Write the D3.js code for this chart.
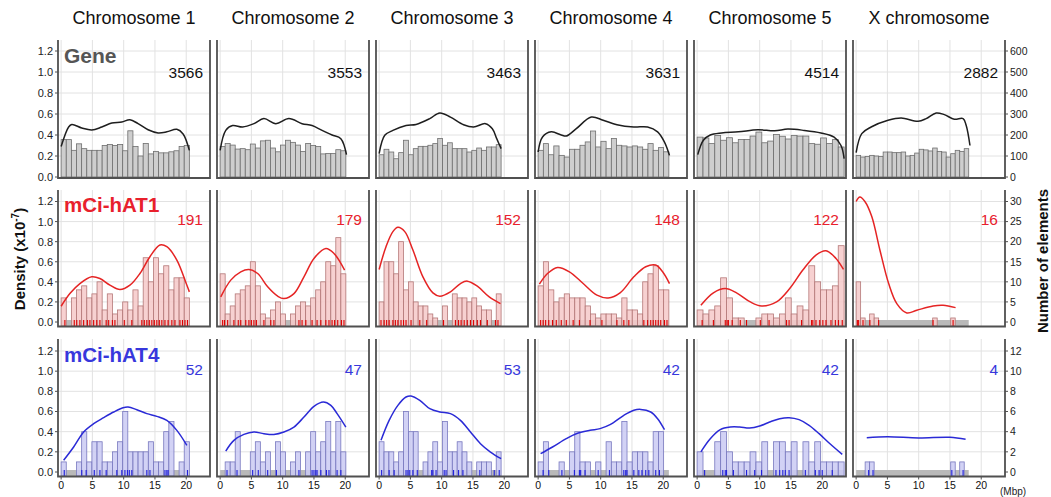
<!DOCTYPE html>
<html>
<head>
<meta charset="utf-8">
<script src="https://cdn.jsdelivr.net/npm/d3@7/dist/d3.min.js"></script>
<style>
  body { margin: 0; background: #fff; }
  svg { display: block; font-family: "Liberation Sans", Arial, sans-serif; }
</style>
</head>
<body>
<svg id="chart" width="1051" height="497"></svg>
<script>
// ---- data ----
const chromosomes = ["Chromosome 1", "Chromosome 2", "Chromosome 3", "Chromosome 4", "Chromosome 5", "X chromosome"];
const chromLength = [20.5, 20.1, 19.5, 20.9, 23.5, 18.0]; // Mbp

const geneTotals = [3566, 3553, 3463, 3631, 4514, 2882];
const hat1Totals = [191, 179, 152, 148, 122, 16];
const hat4Totals = [52, 47, 53, 42, 42, 4];

// element counts per bin (25 bins per chromosome)
const geneBins = [
  [178,178,127,158,135,127,127,127,150,155,150,155,125,220,145,100,160,110,122,115,115,120,125,145,150],
  [145,160,152,133,135,130,157,138,172,175,138,120,152,175,165,152,122,160,150,145,110,112,112,130,125],
  [106,132,119,87,116,175,106,135,146,146,151,159,183,151,163,135,135,135,119,127,138,127,143,143,154],
  [127,159,106,148,103,95,132,132,151,167,219,143,170,135,183,151,148,143,148,143,132,159,127,140,120],
  [190,186,159,198,175,187,163,179,179,195,214,163,171,202,194,181,198,195,195,159,156,186,159,178,143],
  [103,95,98,103,100,98,119,119,116,116,119,100,103,114,132,129,124,138,122,119,95,111,127,122,135]
];
const hat1Bins = [
  [6,0,6,8,9,6,7,10,3,7,2,3,5,3,8,4,16,10,16,12,14,8,11,11,6],
  [12,2,4,7,8,9,15,9,2,1,3,5,2,0,2,4,5,4,6,8,10,15,14,21,12],
  [5,15,15,12,20,8,10,5,4,4,2,1,0,4,0,7,6,6,5,6,4,3,3,0,7],
  [9,15,8,5,6,7,6,6,6,4,2,1,2,2,2,1,6,3,3,2,10,12,14,8,8],
  [3,2,3,4,11,6,1,1,0,0,1,2,2,1,2,6,2,4,3,14,10,8,8,9,19],
  [10,1,0,2,1,0,0,0,0,0,0,0,0,0,0,0,0,1,0,0,0,1,0,0,0]
];
const hat4Bins = [
  [1,0,0,1,4,1,3,3,1,1,2,3,6,2,2,2,2,3,1,1,4,5,0,1,3],
  [0,1,1,4,0,0,2,3,1,2,0,3,2,0,1,2,0,2,4,2,3,5,2,5,2],
  [3,2,2,1,2,6,4,4,0,1,2,3,1,5,2,2,3,2,1,0,1,1,1,0,2],
  [1,3,0,0,1,0,2,4,1,1,0,1,0,3,1,1,5,1,2,2,2,1,4,4,0],
  [2,0,0,3,4,2,1,1,1,2,1,3,0,3,3,2,3,0,3,1,3,1,1,1,1],
  [0,0,1,1,0,0,0,0,0,0,0,0,0,0,0,0,0,0,0,0,0,1,0,1,0]
];

// density curves, [Mbp, density x10^-7]
const geneDensity = [
  [[0,0.29],[1.2,0.476],[1.7,0.5],[3.3,0.467],[4.9,0.448],[6.5,0.476],[8.1,0.514],[9.7,0.524],[11,0.546],[12.3,0.508],[13.9,0.45],[15.5,0.42],[16.9,0.43],[18.5,0.454],[19.5,0.41],[20.5,0.254]],
  [[0,0.254],[0.9,0.444],[2.0,0.49],[3.6,0.476],[5.4,0.508],[7.0,0.556],[8.9,0.508],[11.0,0.556],[13.1,0.508],[14.7,0.49],[16.3,0.444],[17.9,0.40],[19.3,0.365],[20.2,0.213]],
  [[0,0.222],[0.9,0.397],[2.2,0.444],[4.3,0.49],[5.9,0.5],[8.1,0.556],[9.7,0.61],[11.4,0.57],[13.5,0.498],[15.1,0.476],[17,0.508],[18.1,0.46],[18.8,0.365],[19.5,0.27]],
  [[0,0.238],[0.7,0.381],[2.1,0.43],[3.7,0.40],[4.5,0.39],[6.1,0.46],[8.5,0.571],[10.4,0.54],[12.6,0.498],[15.3,0.476],[17.5,0.476],[19.1,0.43],[20.2,0.333],[21,0.206]],
  [[0.1,0.213],[1,0.35],[2.1,0.40],[3.9,0.42],[6.6,0.43],[9.7,0.45],[12.4,0.44],[14.5,0.456],[17.1,0.444],[19.8,0.42],[21.9,0.38],[23,0.30],[23.5,0.175]],
  [[0,0.232],[0.9,0.413],[2.4,0.476],[5.1,0.54],[7.2,0.562],[9.9,0.53],[11.2,0.556],[12.8,0.61],[14.1,0.594],[15.7,0.55],[17.1,0.556],[17.6,0.49],[18.2,0.30]]
];
const hat1Density = [
  [[0,0.157],[1.4,0.283],[3.0,0.383],[4.9,0.45],[6.2,0.433],[7.8,0.367],[9.4,0.323],[11,0.367],[12.6,0.483],[14.2,0.65],[15.8,0.767],[16.9,0.75],[18.5,0.617],[20,0.383],[20.5,0.3]],
  [[0.1,0.25],[1.7,0.417],[3.3,0.5],[4.6,0.523],[6.0,0.483],[7.6,0.35],[9.2,0.257],[10.2,0.233],[11.8,0.283],[13.4,0.45],[15.0,0.633],[16.9,0.733],[18.2,0.683],[19.9,0.517]],
  [[0,0.523],[1.1,0.75],[2.2,0.9],[3.0,0.943],[4.1,0.9],[5.4,0.717],[7.0,0.45],[8.6,0.29],[9.7,0.257],[11.4,0.3],[13.0,0.383],[14.1,0.407],[15.7,0.357],[17.6,0.25],[19.4,0.183]],
  [[0.2,0.377],[1.5,0.483],[3.1,0.543],[5.0,0.5],[7.2,0.383],[9.4,0.267],[11.2,0.24],[13.1,0.29],[15.3,0.45],[17.2,0.55],[18.8,0.567],[19.9,0.5],[21,0.383]],
  [[0.6,0.167],[2.6,0.29],[4.5,0.333],[6.3,0.29],[8.5,0.2],[10.3,0.16],[12.7,0.2],[14.8,0.333],[16.9,0.517],[19,0.667],[20.6,0.71],[22.2,0.633],[23.4,0.523]],
  [[0,1.2],[0.6,1.245],[1.4,1.2],[2.5,1.05],[3.8,0.717],[5.2,0.383],[6.5,0.183],[8.1,0.09],[9.7,0.117],[12.3,0.16],[13.9,0.167],[15.9,0.143]]
];
const hat4Density = [
  [[0.4,0.116],[2,0.248],[3.6,0.397],[5.2,0.479],[6.8,0.539],[8.4,0.595],[9.9,0.638],[10.7,0.645],[12.1,0.618],[13.7,0.579],[15.3,0.552],[16.9,0.512],[18.5,0.413],[20.1,0.264]],
  [[0.9,0.208],[2.2,0.314],[3.8,0.373],[5.4,0.397],[7.0,0.38],[8.6,0.373],[10.2,0.397],[11.8,0.446],[13.4,0.545],[15.0,0.651],[16.5,0.694],[17.7,0.661],[18.7,0.579],[20.1,0.446]],
  [[0.3,0.314],[1.6,0.512],[3.0,0.661],[4.3,0.744],[5.1,0.754],[6.5,0.711],[8.1,0.628],[9.7,0.595],[11.4,0.579],[13.0,0.512],[14.6,0.397],[16.2,0.281],[17.8,0.198],[19.5,0.132]],
  [[0.4,0.182],[2.3,0.248],[4.5,0.331],[6.1,0.38],[8.3,0.413],[9.9,0.43],[11.5,0.469],[13.7,0.562],[15.3,0.612],[16.4,0.621],[18,0.595],[19.1,0.529],[20.2,0.42]],
  [[0.6,0.2],[2.1,0.33],[3.7,0.42],[5.3,0.446],[6.8,0.446],[8.4,0.436],[10,0.456],[11.6,0.496],[13.2,0.529],[14.7,0.539],[16.3,0.519],[17.9,0.463],[19.5,0.38],[21.1,0.288],[23.2,0.175]],
  [[1.7,0.34],[5,0.35],[10,0.338],[15,0.345],[17.5,0.325]]
];

// element positions (rug), Mbp
const hat1Rug = [
  [0.6,2.1,2.5,3.0,3.6,4.2,4.6,5.2,5.7,6.2,7.2,7.6,8.2,8.6,10.1,11.3,12.9,13.3,13.7,14.1,14.5,14.9,15.3,15.7,16.1,16.6,17.1,17.7,18.2,19.0,19.4,19.8,20.2],
  [0.4,0.7,1.2,2.2,2.9,3.3,4.1,4.6,5.0,5.4,5.8,7.0,8.1,8.6,12.6,13.1,13.7,14.7,15.5,16.1,16.9,17.4,17.9,18.3,18.8,19.4,19.8],
  [0.3,0.8,1.2,1.6,2.2,2.6,3.0,3.5,3.9,4.3,5.1,6.5,7.6,10.3,12.2,12.7,13.1,13.6,14.1,14.6,15.1,15.7,16.2,17.3,18.6,19.0],
  [0.4,0.8,1.2,1.7,2.3,2.9,3.7,4.5,5.6,6.6,8.3,10.2,12.6,13.7,14.5,16.9,17.5,18.0,18.4,18.8,19.2,19.6,20.2,20.6],
  [0.8,2.6,4.5,4.8,5.0,5.6,6.9,7.9,10.1,11.5,14.3,14.7,16.7,18.3,18.5,19.0,19.6,20.1,20.6,21.4,22.1,22.6,23.2],
  [0.2,0.4,1.1,2.2,3.6,12.3,15.5]
];
const hat4Rug = [
  [0.5,3.3,4.0,5.3,6.2,7.2,8.9,9.7,10.2,10.6,10.9,11.3,13.7,14.2,16.6,16.9,17.1,20.2],
  [1.1,2.7,5.2,6.1,7.6,9.0,12.6,14.7,15.0,15.3,15.5,16.1,17.0,17.4,18.7,19.3],
  [0.4,1.6,2.4,4.3,4.6,4.9,5.4,6.1,8.4,8.6,9.1,10.4,10.7,11.9,12.7,13.4,16.1,18.4,19.2],
  [0.8,1.7,3.8,5.8,6.6,6.8,7.5,9.6,11.4,13.7,14.0,14.2,15.3,16.1,16.6,17.2,17.7,18.8,19.4],
  [1.2,4.1,4.5,4.7,5.8,7.9,9.2,10.3,12.6,13.2,13.7,14.1,14.7,17.3,18.9,19.5,20.0,21.6],
  [2.0,2.7,15.3,17.1]
];

const densityTicks = [0, 0.2, 0.4, 0.6, 0.8, 1.0, 1.2];
const mbpTicks = [0, 5, 10, 15, 20];
const geneCountTicks = [0, 100, 200, 300, 400, 500, 600];
const hat1CountTicks = [0, 5, 10, 15, 20, 25, 30];
const hat4CountTicks = [0, 2, 4, 6, 8, 10, 12];

// ---- layout ----
const svg = d3.select("#chart");
const panelLeft = [58, 217, 376, 535, 694, 853];
const panelW = 152;

const rows = [
  { name: "Gene", totals: geneTotals, bins: geneBins, dens: geneDensity, rug: null,
    top: 40, y0: 177, y12: 51, bottom: 178, countMax: 600, countTicks: geneCountTicks,
    text: "#555555", line: "#1e1e1e", fill: "#cecece", stroke: "#6e6e6e", labelY: 63, totalY: 78 },
  { name: "mCi-hAT1", totals: hat1Totals, bins: hat1Bins, dens: hat1Density, rug: hat1Rug,
    top: 190, y0: 322, y12: 201.5, bottom: 326.5, countMax: 30, countTicks: hat1CountTicks,
    text: "#e8202c", line: "#e52424", fill: "#f6c9c9", stroke: "#b47878", tick: "#e00000", labelY: 212, totalY: 225 },
  { name: "mCi-hAT4", totals: hat4Totals, bins: hat4Bins, dens: hat4Density, rug: hat4Rug,
    top: 339, y0: 472, y12: 351, bottom: 476.5, countMax: 12, countTicks: hat4CountTicks,
    text: "#3737dc", line: "#2a2ad6", fill: "#cacaf3", stroke: "#7878bf", tick: "#2020dd", labelY: 362, totalY: 375 }
];

// column titles
svg.selectAll("text.title")
  .data(chromosomes)
  .join("text")
  .attr("class", "title")
  .attr("x", (d, i) => panelLeft[i] + panelW / 2)
  .attr("y", 24)
  .attr("text-anchor", "middle")
  .attr("font-size", 18)
  .attr("fill", "#111")
  .text(d => d);

rows.forEach((row, r) => {
  const y = d3.scaleLinear().domain([0, 1.2]).range([row.y0, row.y12]);
  const yc = d3.scaleLinear().domain([0, row.countMax]).range([row.y0, row.y12]);
  const barBase = row.rug ? row.bottom - 0.5 : row.y0;

  chromosomes.forEach((c, i) => {
    const left = panelLeft[i];
    const x = d3.scaleLinear().domain([-0.5, 23.8]).range([left, left + panelW]);
    const g = svg.append("g");

    // grid
    g.selectAll("line.vg").data(mbpTicks).join("line")
      .attr("x1", d => x(d)).attr("x2", d => x(d))
      .attr("y1", row.top).attr("y2", row.bottom)
      .attr("stroke", "#e2e2e2").attr("stroke-width", 1);
    g.selectAll("line.hg").data(densityTicks.slice(1)).join("line")
      .attr("x1", left).attr("x2", left + panelW)
      .attr("y1", d => y(d)).attr("y2", d => y(d))
      .attr("stroke", "#e2e2e2").attr("stroke-width", 1);

    // chromosome band for element rows
    if (row.rug) {
      g.append("rect")
        .attr("x", x(0)).attr("width", x(chromLength[i]) - x(0))
        .attr("y", row.y0 - 2).attr("height", row.bottom - row.y0 + 2)
        .attr("fill", "#b9b9b9");
    }

    // histogram
    const L = chromLength[i];
    const n = row.bins[i].length;
    const bins = row.bins[i].map((v, k) => ({ v, x0: k * L / n, x1: (k + 1) * L / n }))
      .filter(b => b.v > 0);
    g.selectAll("rect.bar").data(bins).join("rect")
      .attr("x", b => x(b.x0))
      .attr("width", b => x(b.x1) - x(b.x0))
      .attr("y", b => yc(b.v))
      .attr("height", b => barBase - yc(b.v))
      .attr("fill", row.fill)
      .attr("fill-opacity", row.rug ? 0.85 : 1)
      .attr("stroke", row.stroke)
      .attr("stroke-width", 0.8);

    // rug ticks
    if (row.rug) {
      g.selectAll("line.rug").data(row.rug[i]).join("line")
        .attr("x1", d => x(d)).attr("x2", d => x(d))
        .attr("y1", row.y0 - 2).attr("y2", row.bottom - 0.5)
        .attr("stroke", row.tick).attr("stroke-width", 1.1);
    }

    // density curve
    const line = d3.line()
      .x(d => x(d[0])).y(d => y(d[1]))
      .curve(d3.curveCatmullRom.alpha(0.5));
    g.append("path")
      .attr("d", line(row.dens[i]))
      .attr("fill", "none")
      .attr("stroke", row.line)
      .attr("stroke-width", 1.5);

    // panel frame (left, right, bottom)
    g.append("path")
      .attr("d", `M${left},${row.top}V${row.bottom}H${left + panelW}V${row.top}`)
      .attr("fill", "none")
      .attr("stroke", "#505050")
      .attr("stroke-width", 1.8);

    // total count
    g.append("text")
      .attr("x", left + panelW - 7)
      .attr("y", row.totalY)
      .attr("text-anchor", "end")
      .attr("font-size", 15.5)
      .attr("fill", r === 0 ? "#111" : row.text)
      .text(row.totals[i]);

    // x axis labels on the bottom row
    if (r === rows.length - 1) {
      g.selectAll("line.xt").data(mbpTicks).join("line")
        .attr("x1", d => x(d)).attr("x2", d => x(d))
        .attr("y1", row.bottom).attr("y2", row.bottom + 3)
        .attr("stroke", "#505050");
      g.selectAll("text.xl").data(mbpTicks).join("text")
        .attr("x", d => x(d))
        .attr("y", 489)
        .attr("text-anchor", "middle")
        .attr("font-size", 10.5)
        .attr("fill", "#111")
        .text(d => d);
    }
  });

  // left density axis
  const leftAxis = svg.append("g");
  leftAxis.selectAll("line").data(densityTicks).join("line")
    .attr("x1", panelLeft[0] - 3).attr("x2", panelLeft[0])
    .attr("y1", d => y(d)).attr("y2", d => y(d))
    .attr("stroke", "#505050");
  leftAxis.selectAll("text").data(densityTicks).join("text")
    .attr("x", 53)
    .attr("y", d => y(d))
    .attr("dy", "0.36em")
    .attr("text-anchor", "end")
    .attr("font-size", 11)
    .attr("fill", "#222")
    .text(d => d.toFixed(1));

  // right count axis
  const rx = panelLeft[5] + panelW;
  const rightAxis = svg.append("g");
  rightAxis.selectAll("line").data(row.countTicks).join("line")
    .attr("x1", rx).attr("x2", rx + 3)
    .attr("y1", d => yc(d)).attr("y2", d => yc(d))
    .attr("stroke", "#505050");
  rightAxis.selectAll("text").data(row.countTicks).join("text")
    .attr("x", rx + 5)
    .attr("y", d => yc(d))
    .attr("dy", "0.36em")
    .attr("font-size", 10.5)
    .attr("fill", "#222")
    .text(d => d);

  // row label
  svg.append("text")
    .attr("x", 64)
    .attr("y", row.labelY)
    .attr("font-size", r === 0 ? 21 : 20.5)
    .attr("font-weight", "bold")
    .attr("fill", row.text)
    .text(row.name);
});

// axis titles
const dens = svg.append("text")
  .attr("transform", "translate(25,259) rotate(-90)")
  .attr("text-anchor", "middle")
  .attr("font-size", 15)
  .attr("font-weight", "bold")
  .attr("fill", "#111");
dens.append("tspan").text("Density (x10");
dens.append("tspan").attr("dy", -6).attr("font-size", 10).text("-7");
dens.append("tspan").attr("dy", 6).text(")");

svg.append("text")
  .attr("transform", "translate(1048,261) rotate(-90)")
  .attr("text-anchor", "middle")
  .attr("font-size", 15)
  .attr("font-weight", "bold")
  .attr("fill", "#111")
  .text("Number of elements");

svg.append("text")
  .attr("x", 1000)
  .attr("y", 495)
  .attr("font-size", 10)
  .attr("fill", "#222")
  .text("(Mbp)");
</script>
</body>
</html>
